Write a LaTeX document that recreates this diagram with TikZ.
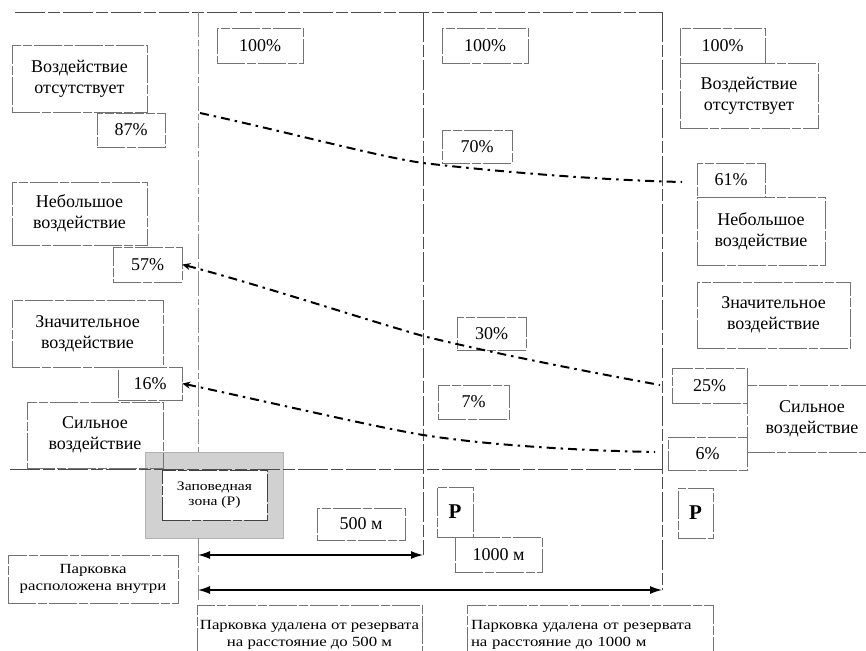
\documentclass[tikz,border=0pt]{standalone}
\usepackage{fontspec}
\setmainfont{Liberation Serif}
\newfontfamily\widefont{Liberation Serif}[FakeStretch=1.2]
\usetikzlibrary{arrows.meta}
\begin{document}
\begin{tikzpicture}[x=1pt,y=-1pt,
  frame/.style={draw=black!55, line width=0.6pt, dash pattern=on 28pt off 2pt on 9pt off 2pt},
  lbl/.style={frame, align=center, inner sep=0pt, font=\fontsize{18}{21}\selectfont},
  pct/.style={frame, inner sep=0pt, font=\fontsize{18}{20}\selectfont},
  small/.style={frame, align=center, inner sep=0pt, font=\widefont\fontsize{14}{17}\selectfont},
  pbox/.style={frame, inner sep=0pt, font=\bfseries\fontsize{21}{22}\selectfont},
  gridline/.style={draw=black!70, line width=0.7pt, dash pattern=on 30pt off 3pt on 12pt off 3pt},
  lightline/.style={draw=black!45, line width=0.7pt, dash pattern=on 25pt off 3pt on 6pt off 3pt},
  trend/.style={draw=black, line width=2pt, dash pattern=on 9pt off 5pt on 2.5pt off 5pt},
  dimarrow/.style={draw=black, line width=1.3pt, {Latex[length=12pt,width=8pt]}-{Latex[length=12pt,width=8pt]}}
]
\useasboundingbox (0,0) rectangle (866,650);
\clip (0,0) rectangle (866,650);

% reserve zone (shaded)
\node[draw=black!30, fill=black!18, minimum width=138pt, minimum height=86pt, inner sep=0pt] (zout) at (214,495) {};
\node[frame, draw=black!75, fill=white, minimum width=105pt, minimum height=50pt, align=center, inner sep=0pt,
      font=\widefont\fontsize{13}{15}\selectfont] (zin) at (214.5,495) {Заповедная\\зона (P)};

% grid lines
\coordinate (t0) at (15,12);
\coordinate (t1) at (662,12);
\draw[gridline] (t0) -- (t1);
\coordinate (v1a) at (198,12);
\coordinate (v1b) at (198,452);
\coordinate (v1c) at (198,538);
\coordinate (v1d) at (198,600);
\draw[lightline] (v1a) -- (v1b);
\draw[lightline] (v1c) -- (v1d);
\coordinate (v2a) at (423,12);
\coordinate (v2b) at (423,555);
\draw[gridline] (v2a) -- (v2b);
\coordinate (v3a) at (662,12);
\coordinate (v3b) at (662,590);
\draw[gridline] (v3a) -- (v3b);
\coordinate (h0) at (10,469);
\coordinate (h1) at (662,469);
\draw[gridline] (h0) -- (h1);

% left labels
\node[lbl, minimum width=135pt, minimum height=67pt] (L1) at (79.5,78.5) {Воздействие\\отсутствует};
\node[lbl, minimum width=135pt, minimum height=63pt] (L2) at (79.5,213.5) {Небольшое\\воздействие};
\node[lbl, minimum width=151pt, minimum height=67pt] (L3) at (87.5,333.5) {Значительное\\воздействие};
\node[lbl, minimum width=136pt, minimum height=66pt] (L4) at (95,435) {Сильное\\воздействие};

% right labels
\node[lbl, minimum width=138pt, minimum height=65pt] (R1) at (749,95.5) {Воздействие\\отсутствует};
\node[lbl, minimum width=128pt, minimum height=68pt] (R2) at (761,231) {Небольшое\\воздействие};
\node[lbl, minimum width=153pt, minimum height=66pt] (R3) at (773.5,315) {Значительное\\воздействие};
\node[lbl, minimum width=130pt, minimum height=67pt] (R4) at (812,418.5) {Сильное\\воздействие};

% percentages
\node[pct, minimum width=86pt, minimum height=35pt] (pA) at (260,45.5) {100\%\hspace{18pt}};
\node[pct, minimum width=86pt, minimum height=35pt] (pB) at (485,45.5) {100\%\hspace{14pt}};
\node[pct, minimum width=85pt, minimum height=35pt] (pC) at (722.5,45.5) {100\%\hspace{18pt}};
\node[pct, minimum width=70pt, minimum height=33pt] (p70) at (477,146.5) {70\%\hspace{14pt}};
\node[pct, minimum width=69pt, minimum height=33pt] (p30) at (491.5,333.5) {30\%};
\node[pct, minimum width=71pt, minimum height=34pt] (p7) at (473.5,402) {7\%\hspace{16pt}};
\node[pct, minimum width=68pt, minimum height=34pt] (p87) at (131,130) {87\%};
\node[pct, minimum width=69pt, minimum height=35pt] (p57) at (147.5,264.5) {57\%\hspace{6pt}};
\node[pct, minimum width=64pt, minimum height=33pt] (p16) at (150,383.5) {16\%};
\node[pct, minimum width=68pt, minimum height=34pt] (p61) at (731,180) {61\%\hspace{18pt}};
\node[pct, minimum width=75pt, minimum height=35pt] (p25) at (709.5,385.5) {25\%};
\node[pct, minimum width=79pt, minimum height=33pt] (p6) at (707.5,453.5) {6\%\hspace{10pt}};

% trend lines
\coordinate (c1a) at (200,113);
\coordinate (c1b) at (423,163);
\coordinate (c1c) at (682,182);
\draw[trend] (c1a) .. controls (300,135) and (380,157) .. (c1b)
                   .. controls (500,172) and (600,180) .. (c1c);
\coordinate (c2b) at (423,336);
\coordinate (c2c) at (660,385);
\draw[trend, {Stealth[length=8pt,width=7pt]}-] (p57.east) .. controls (260,285) and (360,318) .. (c2b)
                   .. controls (500,355) and (600,374) .. (c2c);
\coordinate (c3b) at (423,435);
\coordinate (c3c) at (655,452);
\draw[trend, {Stealth[length=8pt,width=7pt]}-] (p16.east) .. controls (260,400) and (370,426) .. (c3b)
                   .. controls (500,447) and (600,451) .. (c3c);

% bottom
\node[pct, minimum width=88pt, minimum height=32pt] (m500) at (361,524) {500 м};
\node[pbox, minimum width=36pt, minimum height=50pt] (P1) at (455,512) {P};
\node[pct, minimum width=87pt, minimum height=35pt] (m1000) at (498.5,554.5) {1000 м};
\node[pbox, minimum width=35pt, minimum height=50pt] (P2) at (695.5,513) {P};

\coordinate (a1l) at (198,555);
\coordinate (a1r) at (423,555);
\draw[dimarrow] (a1l) -- (a1r);
\coordinate (a2l) at (198,590);
\coordinate (a2r) at (662,590);
\draw[dimarrow] (a2l) -- (a2r);

\node[small, minimum width=170pt, minimum height=48pt] (B1) at (93,579) {Парковка\\расположена внутри};
\node[small, minimum width=225pt, minimum height=60pt] (B2) at (309.5,635) {Парковка удалена от резервата\\на расстояние до 500 м};
\node[small, align=left, minimum width=246pt, minimum height=60pt, text width=238pt] (B3) at (590,635) {Парковка удалена от резервата\\на расстояние до 1000 м};
\end{tikzpicture}
\end{document}
